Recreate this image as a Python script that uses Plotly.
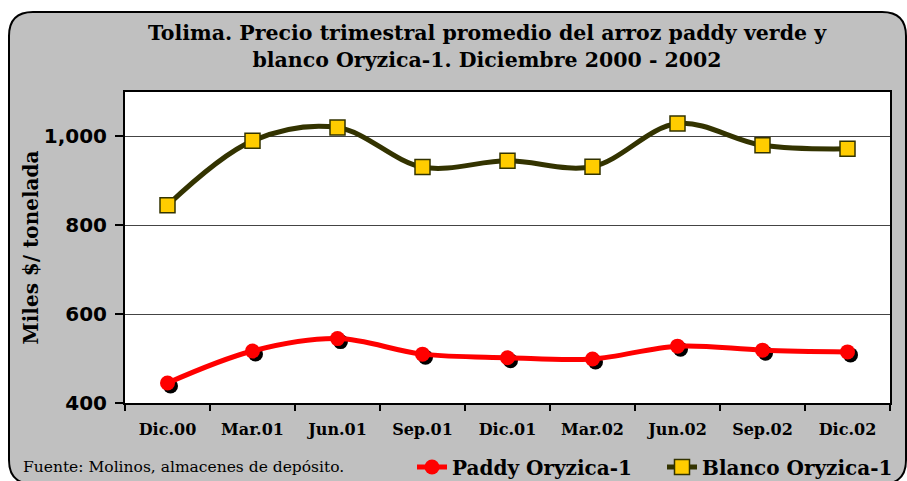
import plotly.graph_objects as go

categories = ["Dic.00", "Mar.01", "Jun.01", "Sep.01", "Dic.01", "Mar.02", "Jun.02", "Sep.02", "Dic.02"]
paddy = [445, 517, 545, 510, 502, 499, 528, 519, 515]
blanco = [845, 990, 1020, 931, 945, 932, 1029, 980, 972]
y_ticks = [400, 600, 800, 1000]
y_tick_text = ["400", "600", "800", "1,000"]

W, H = 907, 481
L, R, T, B = 125, 890, 92, 403
y_range = [400, 1100]
x_range = [-0.5, len(categories) - 0.5]

def px(x):
    return (x - L) / (R - L)

def py(y):
    return (B - y) / (B - T)

xs = list(range(len(categories)))
# shadow offset of 3px right/down in data units
dx = 3 * (x_range[1] - x_range[0]) / (R - L)
dy = 3 * (y_range[1] - y_range[0]) / (B - T)

fig = go.Figure()
fig.add_trace(go.Scatter(
    x=xs, y=blanco, name="Blanco Oryzica-1", mode="lines+markers",
    line=dict(color="#333300", width=5, shape="spline", smoothing=1),
    marker=dict(symbol="square", size=15, color="#FFCC00",
                line=dict(color="#333300", width=1.5)),
    legendrank=2,
))
fig.add_trace(go.Scatter(
    x=[x + dx for x in xs], y=[v - dy for v in paddy], mode="markers",
    marker=dict(symbol="circle", size=15, color="black"),
    showlegend=False, hoverinfo="skip",
))
fig.add_trace(go.Scatter(
    x=xs, y=paddy, name="Paddy Oryzica-1", mode="lines+markers",
    line=dict(color="#FF0000", width=5, shape="spline", smoothing=1),
    marker=dict(symbol="circle", size=15, color="#FF0000"),
    legendrank=1,
))

# rounded outer box
x0, x1, y0, y1, r = 9, 906, 12, 484, 24
pts = (
    f"M {px(x0 + r)},{py(y0)} L {px(x1 - r)},{py(y0)} Q {px(x1)},{py(y0)} {px(x1)},{py(y0 + r)} "
    f"L {px(x1)},{py(y1 - r)} Q {px(x1)},{py(y1)} {px(x1 - r)},{py(y1)} "
    f"L {px(x0 + r)},{py(y1)} Q {px(x0)},{py(y1)} {px(x0)},{py(y1 - r)} "
    f"L {px(x0)},{py(y0 + r)} Q {px(x0)},{py(y0)} {px(x0 + r)},{py(y0)} Z"
)
shapes = [
    dict(type="path", xref="paper", yref="paper", path=pts, fillcolor="#C0C0C0",
         line=dict(color="black", width=2), layer="below"),
    dict(type="rect", xref="paper", yref="paper", x0=0, x1=1, y0=0, y1=1,
         fillcolor="white", line=dict(width=0), layer="below"),
]

fig.update_layout(
    width=W, height=H,
    margin=dict(l=L, r=W - R, t=T, b=H - B, autoexpand=False),
    paper_bgcolor="white", plot_bgcolor="white",
    shapes=shapes,
    title=dict(
        text="Tolima. Precio trimestral promedio del arroz paddy verde y<br>blanco Oryzica-1. Diciembre 2000 - 2002",
        font=dict(family="DejaVu Serif", size=20.5, color="black", weight="bold"),
        x=487 / W, xanchor="center", xref="container",
        y=1 - 40 / H, yanchor="top", yref="container",
    ),
    showlegend=True,
    legend=dict(
        orientation="h", x=px(412), xanchor="left", y=py(467), yanchor="middle",
        bgcolor="rgba(0,0,0,0)",
        font=dict(family="DejaVu Serif", size=20, color="black", weight="bold"),
        itemwidth=30, traceorder="normal", entrywidth=205,
    ),
    annotations=[dict(
        text="Fuente: Molinos, almacenes de depósito.", xref="paper", yref="paper",
        x=px(21), y=py(467), xanchor="left", yanchor="middle", showarrow=False,
        font=dict(family="DejaVu Serif", size=15.5, color="black"),
    )],
)

fig.update_xaxes(
    range=x_range, tickmode="array", tickvals=xs, ticktext=categories,
    ticks="", showgrid=False, zeroline=False, automargin=False,
    showline=True, linecolor="black", linewidth=2, mirror=True,
    tickfont=dict(family="DejaVu Serif", size=16, color="black", weight="bold"),
    ticklabelstandoff=11,
    minor=dict(tick0=0.5, dtick=1, ticks="outside", ticklen=6, tickwidth=1.5,
               tickcolor="black", showgrid=False),
)
fig.update_yaxes(
    range=y_range, tickmode="array", tickvals=y_ticks, ticktext=y_tick_text,
    ticks="outside", ticklen=8, tickwidth=1.5, tickcolor="black",
    showgrid=True, gridcolor="#444444", gridwidth=1, zeroline=False, automargin=False,
    showline=True, linecolor="black", linewidth=2, mirror=True,
    tickfont=dict(family="DejaVu Sans", size=20, color="black", weight="bold"),
    ticklabelstandoff=4,
    title=dict(text="Miles $/ tonelada", standoff=0,
               font=dict(family="DejaVu Serif", size=20, color="black", weight="bold")),
)

fig.write_html("out.html", config={"displayModeBar": False},
               post_script="document.body.style.margin='0px';document.body.style.overflow='hidden';")
